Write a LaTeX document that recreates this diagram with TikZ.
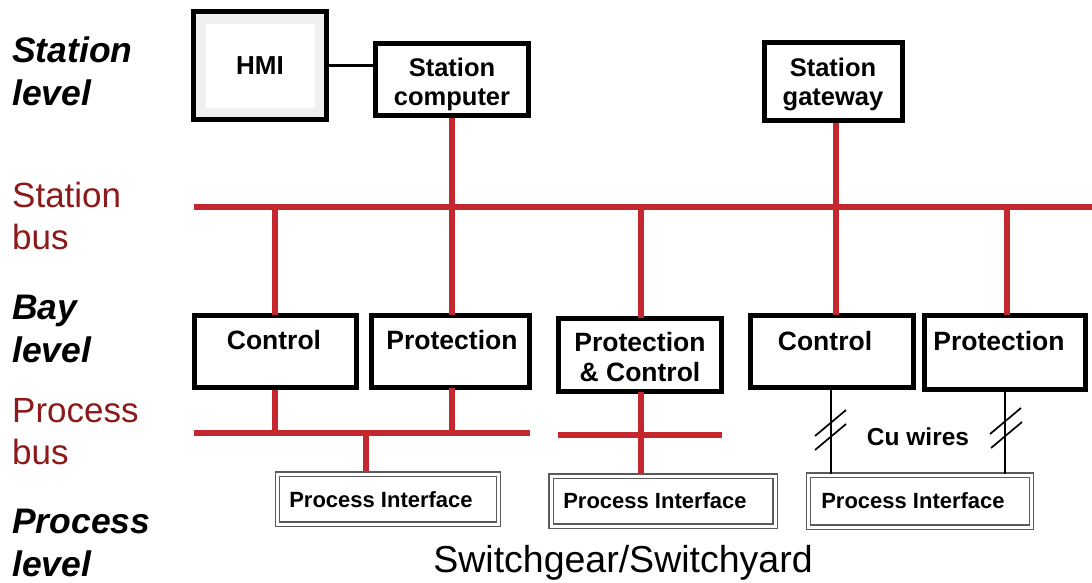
\documentclass[tikz,border=0pt]{standalone}
\usepackage{fontspec}
\setmainfont{Liberation Sans}
\definecolor{busred}{RGB}{196,40,46}
\definecolor{labred}{RGB}{140,26,26}
\definecolor{pigray}{RGB}{90,90,90}
\begin{document}
\begin{tikzpicture}[x=1pt,y=-1pt,
  box/.style={draw=black,line width=5pt,fill=white,inner sep=0pt},
  boxtxt/.style={font=\fontsize{25.5}{29}\selectfont\bfseries,align=center,inner sep=0pt},
  baytxt/.style={font=\fontsize{26.5}{30}\selectfont\bfseries,align=center,inner sep=0pt},
  pibox/.style={draw=pigray,double=white,double distance=3pt,line width=1.3pt,inner sep=0pt,fill=white},
  pitxt/.style={font=\fontsize{22}{26}\selectfont\bfseries,inner sep=0pt},
  lvl/.style={font=\fontsize{35.5}{43}\selectfont\bfseries\itshape,align=left,anchor=west,inner sep=0pt},
  buslab/.style={font=\fontsize{35}{42}\selectfont,text=labred,align=left,anchor=west,inner sep=0pt},
  bus/.style={draw=busred,line width=5.5pt},
  wire/.style={draw=black,line width=1.6pt},
  hash/.style={draw=black,line width=1.7pt}]
\useasboundingbox (0,0) rectangle (1092,583);

% left labels
\node[lvl] (lstation) at (12,71) {Station\\level};
\node[buslab] (lsbus) at (12,216) {Station\\bus};
\node[lvl] (lbay) at (12,329) {Bay\\level};
\node[buslab] (lpbus) at (12,432) {Process\\bus};
\node[lvl] (lproc) at (12,543) {Process\\level};

% station level
\node[box,fill=gray!12,minimum width=133pt,minimum height=108pt,
  path picture={\fill[white] ([xshift=12pt,yshift=-12pt]path picture bounding box.north west) rectangle ([xshift=-12pt,yshift=12pt]path picture bounding box.south east);},
  font=\fontsize{26}{30}\selectfont\bfseries] (hmi) at (260,66) {HMI};
\node[box,minimum width=153pt,minimum height=72pt] (sc) at (452,80) {};
\node[box,minimum width=138pt,minimum height=78pt] (gw) at (833,82) {};
\node[boxtxt] (sct) at (452,84) {Station\\computer};
\node[boxtxt] (gwt) at (833,84) {Station\\gateway};
\draw[line width=3pt] (hmi.east) -- (sc.west |- hmi.east);

% station bus
\coordinate (sbL) at (194,207);
\coordinate (sbR) at (1092,207);
\draw[bus] (sbL) -- (sbR);

% bay level boxes
\node[box,minimum width=162pt,minimum height=72pt] (c1) at (275,351) {};
\node[box,minimum width=158pt,minimum height=72pt] (p1) at (450,351) {};
\node[box,minimum width=163pt,minimum height=73pt] (pc) at (640,355) {};
\node[box,minimum width=163pt,minimum height=72pt] (c2) at (832,351) {};
\node[box,minimum width=161pt,minimum height=74pt] (p2) at (1005,352) {};
\node[baytxt] (c1t) at (274,340) {Control};
\node[baytxt] (p1t) at (452,340) {Protection};
\node[baytxt] (pct) at (640,357) {Protection\\\& Control};
\node[baytxt] (c2t) at (825,341) {Control};
\node[baytxt] (p2t) at (999,341) {Protection};

% links station bus
\draw[bus] (sc.south) -- (sc.south |- sbL);
\draw[bus] ([xshift=3pt]gw.south) -- ([xshift=3pt]gw.south |- sbL);
\draw[bus] (sbL -| c1) -- ([yshift=-2pt]c1.north);
\draw[bus] (452,207) -- ([yshift=-2pt]p1.north -| 452,0);
\draw[bus] (641,207) -- ([yshift=-2pt]pc.north -| 641,0);
\draw[bus] (836,207) -- ([yshift=-2pt]c2.north -| 836,0);
\draw[bus] (1007,207) -- ([yshift=-2pt]p2.north -| 1007,0);

% process interfaces
\node[pibox,minimum width=221pt,minimum height=50pt] (pi1) at (388,499) {};
\node[pibox,minimum width=224pt,minimum height=50pt] (pi2) at (663,501) {};
\node[pibox,minimum width=223pt,minimum height=52pt] (pi3) at (920,501) {};
\node[pitxt] (pi1t) at (381,500) {Process Interface};
\node[pitxt] (pi2t) at (655,501) {Process Interface};
\node[pitxt] (pi3t) at (913,501) {Process Interface};

% process bus
\coordinate (pb1L) at (194,433);
\coordinate (pb1R) at (530,433);
\coordinate (pb2L) at (558,435);
\coordinate (pb2R) at (722,435);
\draw[bus] (pb1L) -- (pb1R);
\draw[bus] (pb2L) -- (pb2R);
\draw[bus] (c1.south) -- (c1.south |- pb1L);
\draw[bus] ([yshift=2pt]p1.south -| 452,0) -- (452,433);
\draw[bus] (366,433) -- ([yshift=2pt]pi1.north -| 366,0);
\draw[bus] ([yshift=2pt]pc.south -| 641,0) -- ([yshift=2pt]pi2.north -| 641,0);

% Cu wires
\coordinate (w1t) at (831,388);
\coordinate (w2t) at (1005,390);
\draw[wire] (w1t) -- (w1t |- pi3.north);
\draw[wire] (w2t) -- (w2t |- pi3.north);
\draw[hash] (815,436) -- (846,410);
\draw[hash] (815,450) -- (846,424);
\draw[hash] (990,434) -- (1021,408);
\draw[hash] (991,448) -- (1022,422);
\node[font=\fontsize{24.5}{28}\selectfont\bfseries,inner sep=0pt] (cu) at (918,437) {Cu wires};

% bottom caption
\node[font=\fontsize{37.5}{44}\selectfont,inner sep=0pt] (sw) at (623,563) {Switchgear/Switchyard};
\end{tikzpicture}
\end{document}
